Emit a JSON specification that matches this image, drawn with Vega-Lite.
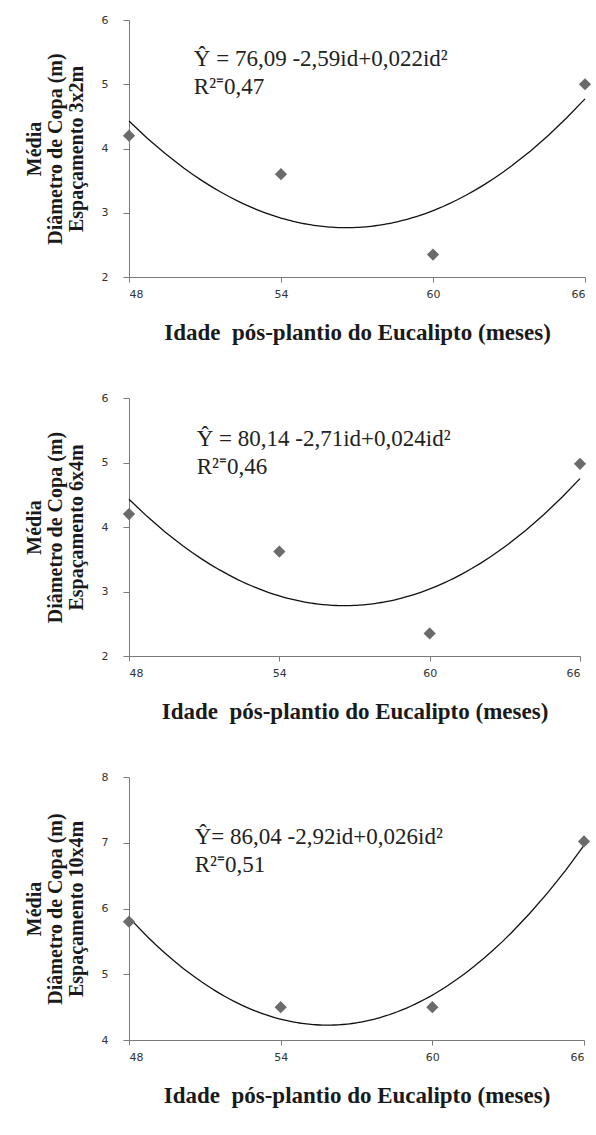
{
  "$schema": "https://vega.github.io/schema/vega-lite/v6.json",
  "padding": {"left": 24, "top": 14, "right": 2, "bottom": 4},
  "background": "white",
  "datasets": {
    "esp3x2": [
      {"idade": 48, "diametro": 4.2},
      {"idade": 54, "diametro": 3.6},
      {"idade": 60, "diametro": 2.35},
      {"idade": 66, "diametro": 5.0}
    ],
    "esp6x4": [
      {"idade": 48, "diametro": 4.2},
      {"idade": 54, "diametro": 3.62},
      {"idade": 60, "diametro": 2.35},
      {"idade": 66, "diametro": 4.98}
    ],
    "esp10x4": [
      {"idade": 48, "diametro": 5.8},
      {"idade": 54, "diametro": 4.5},
      {"idade": 60, "diametro": 4.5},
      {"idade": 66, "diametro": 7.02}
    ]
  },
  "spacing": 48,
  "vconcat": [
    {
      "width": 456,
      "height": 257,
      "layer": [
        {
          "data": {"name": "esp3x2"},
          "transform": [{"regression": "diametro", "on": "idade", "method": "poly", "order": 2, "extent": [48, 66]}],
          "mark": {"type": "line", "color": "#111111", "strokeWidth": 1.3},
          "encoding": {
            "x": {"field": "idade", "type": "quantitative", "scale": {"domain": [48, 66], "nice": false, "zero": false},
                  "axis": {"values": [48, 54, 60, 66], "format": "d", "title": "Idade\u00a0 pós-plantio do Eucalipto (meses)"}},
            "y": {"field": "diametro", "type": "quantitative", "scale": {"domain": [2, 6], "nice": false, "zero": false},
                  "axis": {"values": [2, 3, 4, 5, 6], "format": "d", "title": ["Média", "Diâmetro de Copa (m)", "Espaçamento  3x2m"]}}
          }
        },
        {
          "data": {"name": "esp3x2"},
          "mark": {"type": "point", "shape": "diamond", "filled": true, "color": "#6b6b6b", "opacity": 1, "size": 150},
          "encoding": {
            "x": {"field": "idade", "type": "quantitative", "axis": {"values": [48, 54, 60, 66], "format": "d"}},
            "y": {"field": "diametro", "type": "quantitative", "axis": {"values": [2, 3, 4, 5, 6], "format": "d"}}
          }
        },
        {
          "data": {"values": [{"linha": "Ŷ = 76,09 -2,59id+0,022id²", "r2": "R²⁼0,47"}]},
          "mark": {"type": "text", "align": "left", "baseline": "middle", "font": "Liberation Serif", "fontSize": 23, "fill": "#222222"},
          "encoding": {"x": {"datum": 50.56}, "y": {"datum": 5.39}, "text": {"field": "linha", "type": "nominal"}}
        },
        {
          "data": {"values": [{"linha": "Ŷ = 76,09 -2,59id+0,022id²", "r2": "R²⁼0,47"}]},
          "mark": {"type": "text", "align": "left", "baseline": "middle", "font": "Liberation Serif", "fontSize": 23, "fill": "#222222"},
          "encoding": {"x": {"datum": 50.56}, "y": {"datum": 4.96}, "text": {"field": "r2", "type": "nominal"}}
        }
      ]
    },
    {
      "width": 451,
      "height": 258,
      "layer": [
        {
          "data": {"name": "esp6x4"},
          "transform": [{"regression": "diametro", "on": "idade", "method": "poly", "order": 2, "extent": [48, 66]}],
          "mark": {"type": "line", "color": "#111111", "strokeWidth": 1.3},
          "encoding": {
            "x": {"field": "idade", "type": "quantitative", "scale": {"domain": [48, 66], "nice": false, "zero": false},
                  "axis": {"values": [48, 54, 60, 66], "format": "d", "title": "Idade\u00a0 pós-plantio do Eucalipto (meses)"}},
            "y": {"field": "diametro", "type": "quantitative", "scale": {"domain": [2, 6], "nice": false, "zero": false},
                  "axis": {"values": [2, 3, 4, 5, 6], "format": "d", "title": ["Média", "Diâmetro de Copa (m)", "Espaçamento  6x4m"]}}
          }
        },
        {
          "data": {"name": "esp6x4"},
          "mark": {"type": "point", "shape": "diamond", "filled": true, "color": "#6b6b6b", "opacity": 1, "size": 150},
          "encoding": {
            "x": {"field": "idade", "type": "quantitative", "axis": {"values": [48, 54, 60, 66], "format": "d"}},
            "y": {"field": "diametro", "type": "quantitative", "axis": {"values": [2, 3, 4, 5, 6], "format": "d"}}
          }
        },
        {
          "data": {"values": [{"linha": "Ŷ = 80,14 -2,71id+0,024id²", "r2": "R²⁼0,46"}]},
          "mark": {"type": "text", "align": "left", "baseline": "middle", "font": "Liberation Serif", "fontSize": 23, "fill": "#222222"},
          "encoding": {"x": {"datum": 50.7}, "y": {"datum": 5.36}, "text": {"field": "linha", "type": "nominal"}}
        },
        {
          "data": {"values": [{"linha": "Ŷ = 80,14 -2,71id+0,024id²", "r2": "R²⁼0,46"}]},
          "mark": {"type": "text", "align": "left", "baseline": "middle", "font": "Liberation Serif", "fontSize": 23, "fill": "#222222"},
          "encoding": {"x": {"datum": 50.7}, "y": {"datum": 4.93}, "text": {"field": "r2", "type": "nominal"}}
        }
      ]
    },
    {
      "width": 455,
      "height": 263,
      "layer": [
        {
          "data": {"name": "esp10x4"},
          "transform": [{"regression": "diametro", "on": "idade", "method": "poly", "order": 2, "extent": [48, 66]}],
          "mark": {"type": "line", "color": "#111111", "strokeWidth": 1.3},
          "encoding": {
            "x": {"field": "idade", "type": "quantitative", "scale": {"domain": [48, 66], "nice": false, "zero": false},
                  "axis": {"values": [48, 54, 60, 66], "format": "d", "title": "Idade\u00a0 pós-plantio do Eucalipto (meses)"}},
            "y": {"field": "diametro", "type": "quantitative", "scale": {"domain": [4, 8], "nice": false, "zero": false},
                  "axis": {"values": [4, 5, 6, 7, 8], "format": "d", "title": ["Média", "Diâmetro de Copa (m)", "Espaçamento  10x4m"]}}
          }
        },
        {
          "data": {"name": "esp10x4"},
          "mark": {"type": "point", "shape": "diamond", "filled": true, "color": "#6b6b6b", "opacity": 1, "size": 150},
          "encoding": {
            "x": {"field": "idade", "type": "quantitative", "axis": {"values": [48, 54, 60, 66], "format": "d"}},
            "y": {"field": "diametro", "type": "quantitative", "axis": {"values": [4, 5, 6, 7, 8], "format": "d"}}
          }
        },
        {
          "data": {"values": [{"linha": "Ŷ= 86,04 -2,92id+0,026id²", "r2": "R²⁼0,51"}]},
          "mark": {"type": "text", "align": "left", "baseline": "middle", "font": "Liberation Serif", "fontSize": 23, "fill": "#222222"},
          "encoding": {"x": {"datum": 50.6}, "y": {"datum": 7.08}, "text": {"field": "linha", "type": "nominal"}}
        },
        {
          "data": {"values": [{"linha": "Ŷ= 86,04 -2,92id+0,026id²", "r2": "R²⁼0,51"}]},
          "mark": {"type": "text", "align": "left", "baseline": "middle", "font": "Liberation Serif", "fontSize": 23, "fill": "#222222"},
          "encoding": {"x": {"datum": 50.6}, "y": {"datum": 6.66}, "text": {"field": "r2", "type": "nominal"}}
        }
      ]
    }
  ],
  "config": {
    "view": {"stroke": null},
    "axis": {
      "grid": false,
      "domainColor": "#7a7a7a",
      "tickColor": "#7a7a7a",
      "labelFont": "DejaVu Sans",
      "labelFontSize": 11,
      "labelColor": "#333333",
      "titleFont": "Liberation Serif",
      "titleFontWeight": "bold",
      "titleColor": "#1a1a1a"
    },
    "axisX": {"tickSize": 5, "labelPadding": 6, "titlePadding": 22, "titleFontSize": 23},
    "axisY": {"tickSize": 6, "labelPadding": 15, "titlePadding": 15, "titleFontSize": 20, "titleLineHeight": 21}
  }
}
